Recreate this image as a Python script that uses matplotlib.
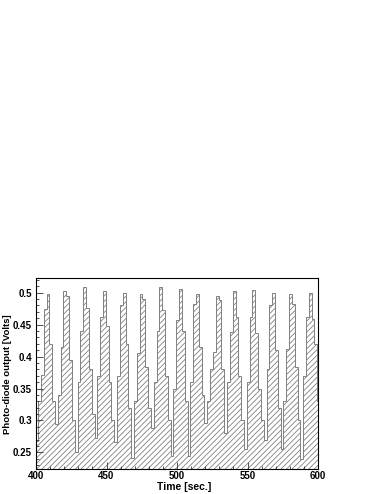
import numpy as np
import matplotlib
matplotlib.use("Agg")
import matplotlib.pyplot as plt
from matplotlib.ticker import MultipleLocator, FuncFormatter

# photo-diode output, 2 s bins
bin_start = 399.5
bin_width = 2.0
volts = [
    0.268, 0.330, 0.371, 0.474, 0.497, 0.419, 0.330, 0.295, 0.340, 0.415,
    0.503, 0.495, 0.394, 0.300, 0.250, 0.360, 0.440, 0.508, 0.476, 0.380,
    0.310, 0.273, 0.370, 0.461, 0.502, 0.447, 0.360, 0.300, 0.267, 0.370,
    0.480, 0.500, 0.419, 0.320, 0.242, 0.330, 0.405, 0.497, 0.490, 0.384,
    0.320, 0.288, 0.360, 0.440, 0.508, 0.472, 0.370, 0.300, 0.245, 0.350,
    0.457, 0.505, 0.440, 0.330, 0.244, 0.360, 0.482, 0.497, 0.415, 0.340,
    0.296, 0.330, 0.380, 0.407, 0.495, 0.488, 0.381, 0.280, 0.360, 0.439,
    0.503, 0.461, 0.370, 0.300, 0.255, 0.360, 0.461, 0.504, 0.436, 0.350,
    0.300, 0.270, 0.380, 0.480, 0.499, 0.410, 0.320, 0.255, 0.330, 0.412,
    0.498, 0.482, 0.384, 0.300, 0.240, 0.370, 0.461, 0.500, 0.458, 0.420,
    0.330,
]
edges = bin_start + bin_width * np.arange(len(volts) + 1)

plt.rcParams['font.family'] = ['Liberation Sans', 'DejaVu Sans']
plt.rcParams['font.weight'] = 'bold'
plt.rcParams['hatch.linewidth'] = 0.6

fig = plt.figure(figsize=(3.82, 4.94), dpi=100)
ax = fig.add_axes([36 / 382, 25 / 494, 282 / 382, 191 / 494])

ax.stairs(volts, edges, baseline=0, fill=True, facecolor='white',
          edgecolor='#808080', hatch='//////', linewidth=0.7)

ax.set_xlim(400, 600)
ax.set_ylim(0.2242, 0.5227)

ax.xaxis.set_major_locator(MultipleLocator(50))
ax.xaxis.set_minor_locator(MultipleLocator(10))
ax.yaxis.set_major_locator(MultipleLocator(0.05))
ax.yaxis.set_minor_locator(MultipleLocator(0.01))
ax.yaxis.set_major_formatter(FuncFormatter(lambda v, p: '%g' % round(v, 3)))

ax.tick_params(which='both', direction='in', top=False, right=False,
               labelsize=7, width=0.6, color='#333333')
ax.tick_params(which='major', length=5)
ax.tick_params(which='minor', length=2.5)
ax.tick_params(axis='y', which='major', pad=3)
ax.tick_params(axis='x', which='major', pad=1.5)
for s in ax.spines.values():
    s.set_linewidth(0.8)

fig.text(8 / 382, 1 - 374 / 494, 'Photo-diode output [Volts]', rotation=90,
         ha='center', va='center', fontsize=6.8, fontweight='bold')
fig.text(184 / 382, 1 - 487 / 494, 'Time [sec.]', ha='center', va='center',
         fontsize=7.5, fontweight='bold')

fig.savefig('out.png', dpi=100)
